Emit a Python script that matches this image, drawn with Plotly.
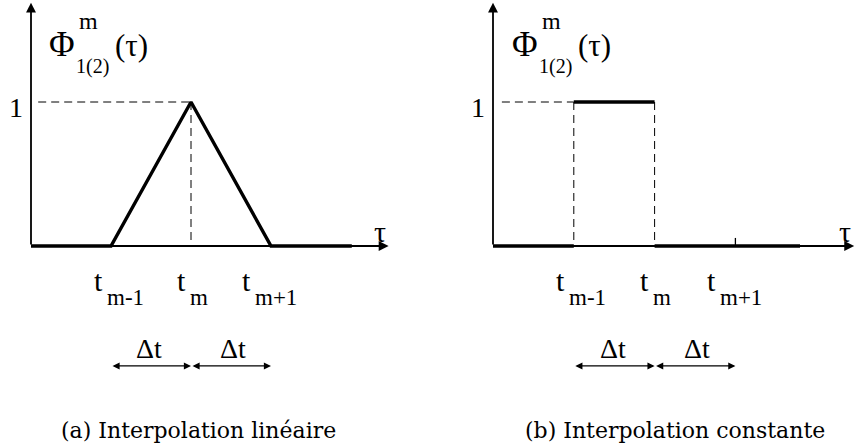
import plotly.graph_objects as go

# noeuds temporels t_{m-1}, t_m, t_{m+1}
t_nodes = [1, 2, 3]
sub_labels = ["m-1", "m", "m+1"]
t_label_x = [0.92, 1.96, 2.78]
dt_label_x = [1.48, 2.52]

# (a) interpolation linéaire : fonction chapeau
lin_x = [0, 1, 2, 3, 4.01]
lin_y = [0, 0, 1, 0, 0]

# (b) interpolation constante : segments épais
const_x = [0, 1, None, 1, 2, None, 2, 3.8]
const_y = [0, 0, None, 1, 1, None, 0, 0]

axis_end_x = 4.47
axis_end_y = 1.69

captions = ["(a) Interpolation linéaire", "(b) Interpolation constante"]

SERIF = "Liberation Serif, Times New Roman, serif"
CAPTION_FONT = "DejaVu Serif, serif"
THICK = 3.4
THIN = 1.8

fig = go.Figure()

fig.add_trace(go.Scatter(x=lin_x, y=lin_y, mode="lines",
                         line=dict(color="black", width=THICK),
                         xaxis="x", yaxis="y", hoverinfo="skip"))
fig.add_trace(go.Scatter(x=const_x, y=const_y, mode="lines",
                         line=dict(color="black", width=THICK),
                         xaxis="x2", yaxis="y2", hoverinfo="skip"))

# lignes pointillées
dash = dict(color="black", width=1, dash="8px,5px")
fig.add_trace(go.Scatter(x=[0.09, 2, None, 2, 2], y=[1, 1, None, 1, 0], mode="lines",
                         line=dash, xaxis="x", yaxis="y", hoverinfo="skip"))
fig.add_trace(go.Scatter(x=[0.11, 1, None, 1, 1, None, 2, 2], y=[1, 1, None, 1, 0, None, 1, 0],
                         mode="lines", line=dash, xaxis="x2", yaxis="y2", hoverinfo="skip"))
# petite graduation en t_{m+1} (b)
fig.add_trace(go.Scatter(x=[3, 3], y=[0, 0.056], mode="lines",
                         line=dict(color="black", width=1.3), xaxis="x2", yaxis="y2",
                         hoverinfo="skip"))

annotations = []


def arrow(xref, yref, x, y, ax, ay, width, size, side="end"):
    annotations.append(dict(xref=xref, yref=yref, axref=xref, ayref=yref,
                            x=x, y=y, ax=ax, ay=ay, text="", showarrow=True,
                            arrowhead=2, arrowsize=size, arrowwidth=width,
                            arrowside=side, arrowcolor="black", standoff=0,
                            startstandoff=0, startarrowhead=2, startarrowsize=size))


def text(xref, yref, x, y, s, size, xanchor="center", yanchor="middle"):
    annotations.append(dict(xref=xref, yref=yref, x=x, y=y, text=s, showarrow=False,
                            xanchor=xanchor, yanchor=yanchor,
                            font=dict(family=SERIF, size=size, color="black")))


for xr, yr in [("x", "y"), ("x2", "y2")]:
    # axes
    arrow(xr, yr, 0, axis_end_y, 0, 0, THIN, 1.1)
    arrow(xr, yr, axis_end_x, 0, 0, 0, THIN, 1.1)
    text(xr, yr, 4.36, 0.1, "τ", 30)
    text(xr, yr, -0.19, 0.96, "1", 28)
    # Φ^m_{1(2)}(τ)
    text(xr, yr, 0.39, 1.40, "Φ", 35)
    text(xr, yr, 0.72, 1.56, "m", 24)
    text(xr, yr, 0.77, 1.25, "1(2)", 20)
    text(xr, yr, 1.25, 1.39, "(τ)", 31)
    # étiquettes des noeuds
    for lx, sub in zip(t_label_x, sub_labels):
        text(xr, yr, lx, -0.24, "t", 30, xanchor="right")
        text(xr, yr, lx, -0.36, sub, 23, xanchor="left")
    # Δt
    for k, lx in enumerate(dt_label_x):
        text(xr, yr, lx, -0.71, "Δt", 28)
        arrow(xr, yr, t_nodes[k + 1], -0.833, t_nodes[k], -0.833, 1.3, 1.1, side="end+start")

for cx, cap in zip([0.232, 0.79], captions):
    annotations.append(dict(xref="paper", yref="paper", x=cx, y=0.038,
                            xanchor="center", yanchor="middle",
                            text=cap, showarrow=False,
                            font=dict(family=CAPTION_FONT, size=22, color="black")))

y_range = [-202 / 144, 246 / 144]
hidden = dict(visible=False, showgrid=False, zeroline=False)

fig.update_layout(
    width=855, height=448,
    margin=dict(l=0, r=0, t=0, b=0),
    paper_bgcolor="white", plot_bgcolor="white",
    showlegend=False,
    xaxis=dict(domain=[0, 0.5], range=[-31 / 80, 396.5 / 80], **hidden),
    yaxis=dict(domain=[0, 1], range=y_range, anchor="x", **hidden),
    xaxis2=dict(domain=[0.5, 1], range=[-65.5 / 80.8, 362 / 80.8], **hidden),
    yaxis2=dict(domain=[0, 1], range=y_range, anchor="x2", **hidden),
    annotations=annotations,
)

fig.write_html("out.html", config={"displayModeBar": False},
               post_script="document.body.style.margin='0px';")
